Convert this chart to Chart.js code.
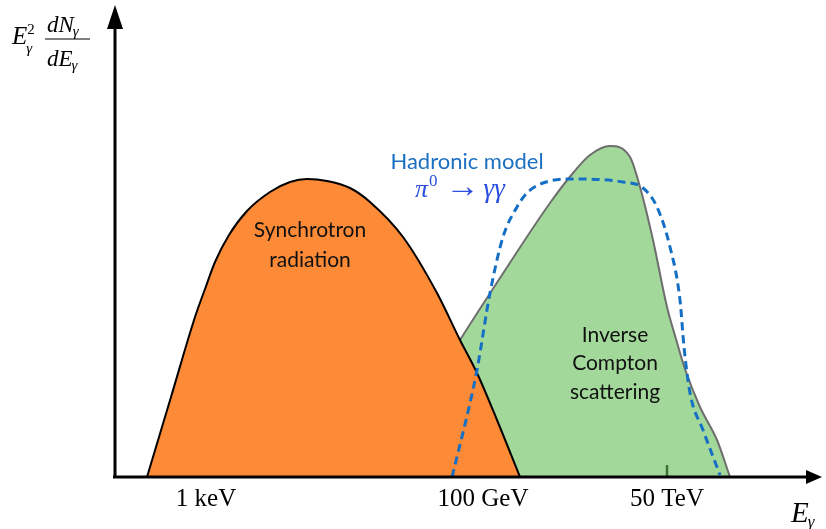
<!DOCTYPE html>
<html lang="en">
<head>
    <meta charset="UTF-8">
    <title>Synchrotron / Inverse Compton / Hadronic</title>
    <style>
        body {
            margin: 0;
            background: #ffffff;
        }
        #sed {
            display: block;
        }
    </style>
</head>
<body>
    <canvas id="sed" width="826" height="529"></canvas>

    <script src="https://cdn.jsdelivr.net/npm/chart.js"></script>
    <script>
        // arbitrary energy units (x) and arbitrary flux units (y)
        const synchX = [32, 56, 80, 90, 100, 114, 132, 155, 175, 192, 212, 235, 255, 288, 322, 345, 362, 382, 405];
        const synchY = [0, 80, 160, 188, 215, 242, 266, 285, 295, 298, 296, 289, 275, 240, 184, 137, 104, 57, 0];

        const icX = [260, 345, 385, 435, 458, 475, 495, 515, 525, 538, 552, 561, 570, 585, 602, 615];
        const icY = [0, 137, 199, 274, 304, 322, 331, 320, 290, 237, 170, 138, 108, 70, 37, 0];

        const hadX = [337, 355, 362, 375, 388, 402, 412, 428, 458, 508, 528, 542, 555, 565, 569, 575, 588, 605];
        const hadY = [0, 74, 107, 184, 240, 270, 284, 294, 298, 295, 289, 270, 230, 177, 130, 84, 47, 2];

        const tickValues = [91, 368, 552];
        const tickLabels = ['1 keV', '100 GeV', '50 TeV'];

        const pts = (xs, ys) => xs.map((x, i) => ({ x: x, y: ys[i] }));

        const sansFont = 'Lato, "Noto Sans", sans-serif';
        const serifFont = '"Liberation Serif", "DejaVu Serif", serif';

        function arrow(ctx, tipX, tipY, dx, dy, len, half) {
            // dx, dy : unit direction of the arrow
            const bx = tipX - dx * len, by = tipY - dy * len;
            ctx.beginPath();
            ctx.moveTo(tipX, tipY);
            ctx.lineTo(bx - dy * half, by + dx * half);
            ctx.lineTo(bx + dy * half, by - dx * half);
            ctx.closePath();
            ctx.fill();
        }

        // draws pieces one after the other: [text, font, dy, gapAfter]
        function run(ctx, x, y, pieces) {
            pieces.forEach(p => {
                ctx.font = p[1];
                ctx.fillText(p[0], x, y + (p[2] || 0));
                x += ctx.measureText(p[0]).width + (p[3] || 0);
            });
            return x;
        }

        const deco = {
            id: 'deco',
            beforeDatasetsDraw(chart) {
                const ctx = chart.ctx;
                const xs = chart.scales.x, ys = chart.scales.y;
                ctx.save();
                ctx.strokeStyle = '#000';
                ctx.lineWidth = 2.5;
                tickValues.forEach(v => {
                    const px = xs.getPixelForValue(v);
                    ctx.beginPath();
                    ctx.moveTo(px, ys.getPixelForValue(0));
                    ctx.lineTo(px, ys.getPixelForValue(12));
                    ctx.stroke();
                });
                ctx.restore();
            },
            afterDatasetsDraw(chart) {
                const ctx = chart.ctx;
                const a = chart.chartArea;
                const xs = chart.scales.x, ys = chart.scales.y;
                const x0 = xs.getPixelForValue(0), y0 = ys.getPixelForValue(0);
                ctx.save();

                // axes
                ctx.strokeStyle = '#000';
                ctx.fillStyle = '#000';
                ctx.lineWidth = 3;
                ctx.beginPath();
                ctx.moveTo(x0, y0 + 1.5);
                ctx.lineTo(x0, a.top + 20);
                ctx.moveTo(x0 - 2, y0);
                ctx.lineTo(a.right - 14, y0);
                ctx.stroke();
                arrow(ctx, x0, a.top, 0, -1, 24, 8);
                arrow(ctx, a.right, y0, 1, 0, 16, 7);

                // tick labels
                ctx.font = '25px ' + serifFont;
                ctx.textAlign = 'center';
                ctx.textBaseline = 'alphabetic';
                tickValues.forEach((v, i) => {
                    ctx.fillText(tickLabels[i], xs.getPixelForValue(v), y0 + 29);
                });

                // curve names
                ctx.font = '21px ' + sansFont;
                ctx.textBaseline = 'middle';
                ctx.fillStyle = '#111';
                ctx.fillText('Synchrotron', xs.getPixelForValue(195), ys.getPixelForValue(247));
                ctx.fillText('radiation', xs.getPixelForValue(195), ys.getPixelForValue(217));
                ctx.fillText('Inverse', xs.getPixelForValue(500), ys.getPixelForValue(142));
                ctx.fillText('Compton', xs.getPixelForValue(500), ys.getPixelForValue(114));
                ctx.fillText('scattering', xs.getPixelForValue(500), ys.getPixelForValue(85));

                ctx.fillStyle = '#1b6fc0';
                ctx.font = '22px ' + sansFont;
                ctx.fillText('Hadronic model', xs.getPixelForValue(352), ys.getPixelForValue(315));

                // pi0 -> gamma gamma
                ctx.fillStyle = '#2a4fe0';
                ctx.textAlign = 'left';
                ctx.textBaseline = 'alphabetic';
                run(ctx, xs.getPixelForValue(300), ys.getPixelForValue(280), [
                    ['π', 'italic 26px ' + serifFont, 0, 1],
                    ['0', '17px ' + serifFont, -11, 8],
                    ['→', '34px ' + serifFont, 0, 4],
                    ['γγ', 'italic 27px ' + serifFont, 0, 0]
                ]);

                // y axis title: E_g^2 dN_g / dE_g
                ctx.fillStyle = '#000';
                ctx.font = 'italic 25px ' + serifFont;
                ctx.fillText('E', 12, 44);
                const ex = 12 + ctx.measureText('E').width;
                ctx.font = '15px ' + serifFont;
                ctx.fillText('2', ex, 34);
                ctx.font = 'italic 15px ' + serifFont;
                ctx.fillText('γ', ex - 1, 53);
                run(ctx, 47, 32, [
                    ['dN', 'italic 23px ' + serifFont, 0, -1],
                    ['γ', 'italic 15px ' + serifFont, 4, 0]
                ]);
                run(ctx, 47, 66, [
                    ['dE', 'italic 23px ' + serifFont, 0, -1],
                    ['γ', 'italic 15px ' + serifFont, 4, 0]
                ]);
                ctx.lineWidth = 1.2;
                ctx.strokeStyle = '#000';
                ctx.beginPath();
                ctx.moveTo(45, 39);
                ctx.lineTo(90, 39);
                ctx.stroke();

                // x axis title: E_g
                run(ctx, 791, 522, [
                    ['E', 'italic 29px ' + serifFont, 0, -1],
                    ['γ', 'italic 17px ' + serifFont, 5, 0]
                ]);

                ctx.restore();
            }
        };

        const chart = new Chart(document.getElementById('sed').getContext('2d'), {
            type: 'line',
            data: {
                datasets: [
                    {
                        label: 'Hadronic model',
                        data: pts(hadX, hadY),
                        borderColor: '#1570c5',
                        borderWidth: 3,
                        borderDash: [8, 5],
                        fill: false,
                        order: 0
                    },
                    {
                        label: 'Synchrotron radiation',
                        data: pts(synchX, synchY),
                        borderColor: '#000000',
                        borderWidth: 2,
                        backgroundColor: '#fd8a36',
                        fill: 'origin',
                        order: 1
                    },
                    {
                        label: 'Inverse Compton scattering',
                        data: pts(icX, icY),
                        borderColor: '#6e6e6e',
                        borderWidth: 2,
                        backgroundColor: 'rgba(100, 190, 87, 0.6)',
                        fill: 'origin',
                        order: 2
                    }
                ]
            },
            options: {
                responsive: false,
                animation: false,
                layout: {
                    padding: { left: 115, right: 4, top: 5, bottom: 52 }
                },
                elements: {
                    point: { radius: 0 },
                    line: { cubicInterpolationMode: 'monotone' }
                },
                scales: {
                    x: { type: 'linear', min: 0, max: 707, display: false },
                    y: { type: 'linear', min: 0, max: 472, display: false }
                },
                plugins: {
                    legend: { display: false },
                    tooltip: { enabled: false }
                }
            },
            plugins: [deco]
        });
    </script>
</body>
</html>
